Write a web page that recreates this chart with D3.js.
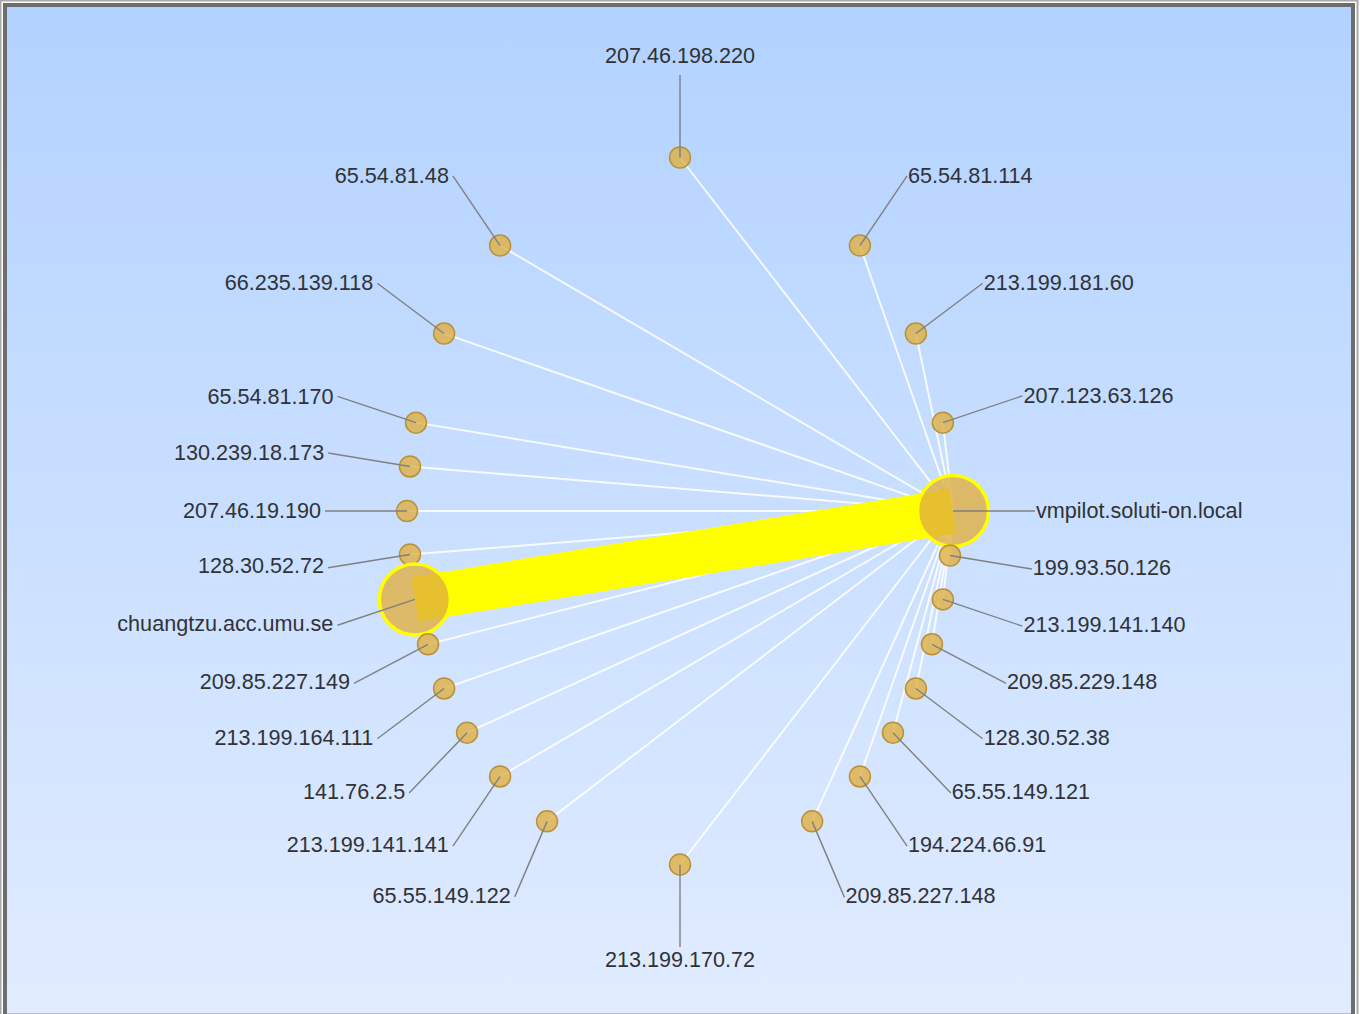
<!DOCTYPE html>
<html>
<head>
<meta charset="utf-8">
<script src="https://cdn.jsdelivr.net/npm/d3@7"></script>
<style>
  html, body { margin: 0; padding: 0; background: #ffffff; }
  svg { display: block; }
</style>
</head>
<body>
<svg id="chart" width="1360" height="1014"></svg>
<script>
// ---------------- DATA ----------------
const hub = "vmpilot.soluti-on.local";

const hosts = [
  "207.46.198.220", "65.54.81.48", "65.54.81.114", "66.235.139.118", "213.199.181.60",
  "65.54.81.170", "207.123.63.126", "130.239.18.173", "207.46.19.190", "vmpilot.soluti-on.local",
  "128.30.52.72", "199.93.50.126", "chuangtzu.acc.umu.se", "213.199.141.140", "209.85.227.149",
  "209.85.229.148", "213.199.164.111", "128.30.52.38", "141.76.2.5", "65.55.149.121",
  "213.199.141.141", "194.224.66.91", "65.55.149.122", "209.85.227.148", "213.199.170.72"
];

// layout coordinates (normalised, elliptical layout)
const layoutX = [
  0.000, -0.659, 0.659, -0.864, 0.864,
  -0.967, 0.963, -0.989, -1.000, 1.000,
  -0.989, 0.989, -0.971, 0.963, -0.923,
  0.923, -0.864, 0.864, -0.780, 0.780,
  -0.659, 0.659, -0.487, 0.484, 0.000
];
const layoutY = [
  -1.000, -0.751, -0.751, -0.502, -0.502,
  -0.250, -0.250, -0.126, 0.000, 0.000,
  0.123, 0.126, 0.250, 0.250, 0.377,
  0.377, 0.502, 0.502, 0.627, 0.627,
  0.751, 0.751, 0.878, 0.878, 1.000
];

// traffic volume per host (relative units) -> node size
const nodeTraffic = [
  1, 1, 1, 1, 1,
  1, 1, 1, 1, 12,
  1, 1, 12, 1, 1,
  1, 1, 1, 1, 1,
  1, 1, 1, 1, 1
];

// traffic volume of each host's link to the hub -> edge width
const linkTraffic = [
  1, 1, 1, 1, 1,
  1, 1, 1, 1, 0,
  1, 1, 22, 1, 1,
  1, 1, 1, 1, 1,
  1, 1, 1, 1, 1
];

// ---------------- DRAW ----------------
const W = 1360, H = 1014;
const svg = d3.select("#chart");
const defs = svg.append("defs");
const grad = defs.append("linearGradient").attr("id", "bg").attr("x1", 0).attr("y1", 0).attr("x2", 0).attr("y2", 1);
grad.append("stop").attr("offset", "0%").attr("stop-color", "#b2d2ff");
grad.append("stop").attr("offset", "100%").attr("stop-color", "#e1ecff");

// frame
svg.append("rect").attr("x", 0.5).attr("y", 0.5).attr("width", 1357).attr("height", 1020)
  .attr("fill", "none").attr("stroke", "#a9a9a9").attr("stroke-width", 2);
svg.append("rect").attr("x", 5).attr("y", 5).attr("width", 1348).attr("height", 1020)
  .attr("fill", "url(#bg)").attr("stroke", "#6d6d6d").attr("stroke-width", 4);
svg.append("line").attr("x1", 7).attr("x2", 1351).attr("y1", 1013.5).attr("y2", 1013.5)
  .attr("stroke", "#b9bfc8").attr("stroke-width", 1);

const cx = 680, cy = 511;
const x = d3.scaleLinear().domain([-1, 1]).range([cx - 273, cx + 273]);
const y = d3.scaleLinear().domain([-1, 1]).range([cy - 353.5, cy + 353.5]);
const r = d3.scaleSqrt().domain([1, 12]).range([10.5, 35.5]);
const lw = d3.scaleLinear().domain([1, 22]).range([2, 45]);

const nodes = hosts.map((h, i) => ({
  name: h, px: x(layoutX[i]), py: y(layoutY[i]), traffic: nodeTraffic[i], link: linkTraffic[i]
}));
const hubNode = nodes.find(n => n.name === hub);
const links = nodes.filter(n => n !== hubNode && n.link > 0).map(n => ({ source: n, target: hubNode, w: n.link }));

const gLinks = svg.append("g");
// thin links first, heavy ones on top
const sortedLinks = links.slice().sort((a, b) => a.w - b.w);
gLinks.selectAll("line").data(sortedLinks).join("line")
  .attr("x1", d => d.source.px).attr("y1", d => d.source.py)
  .attr("x2", d => d.target.px).attr("y2", d => d.target.py)
  .attr("stroke", d => d.w > 1 ? "#ffff00" : "#ffffff")
  .attr("stroke-opacity", d => d.w > 1 ? 1 : 0.85)
  .attr("stroke-width", d => lw(d.w))
  .attr("stroke-linecap", "butt");

// nodes
const gNodes = svg.append("g");
gNodes.selectAll("circle").data(nodes).join("circle")
  .attr("cx", d => d.px).attr("cy", d => d.py)
  .attr("r", d => r(d.traffic))
  .attr("fill", "#e0ae3e")
  .attr("fill-opacity", 0.78)
  .attr("stroke", d => d.traffic > 1 ? "#ffff00" : "#b8923a")
  .attr("stroke-width", d => d.traffic > 1 ? 3.5 : 1.5);

// label leader lines: radial from layout centre to outer ellipse
const RX = 355, RY = 436;
nodes.forEach(n => {
  const dx = n.px - cx, dy = n.py - cy;
  const t = 1 / Math.sqrt((dx / RX) ** 2 + (dy / RY) ** 2);
  n.ex = cx + dx * t; n.ey = cy + dy * t;
  if (Math.abs(dx) < 1) n.side = dy < 0 ? "top" : "bottom";
  else n.side = dx < 0 ? "left" : "right";
});

const gLead = svg.append("g");
gLead.selectAll("line").data(nodes).join("line")
  .attr("x1", d => d.px).attr("y1", d => d.py)
  .attr("x2", d => d.ex).attr("y2", d => d.ey)
  .attr("stroke", "#808080").attr("stroke-width", 1.4);

const gText = svg.append("g")
  .style("font-family", "'Liberation Sans', Arial, Helvetica, sans-serif")
  .style("font-size", "21.6px")
  .attr("fill", "#303236");
gText.selectAll("text").data(nodes).join("text")
  .attr("x", d => d.side === "left" ? d.ex - 4 : d.side === "right" ? d.ex + 1 : d.ex)
  .attr("y", d => d.side === "top" ? d.ey - 12 : d.side === "bottom" ? d.ey + 19.5
                : d.ey + (d.ey > cy + 1 ? 5.8 : 7.2))
  .attr("text-anchor", d => d.side === "left" ? "end" : d.side === "right" ? "start" : "middle")
  .text(d => d.name);
</script>
</body>
</html>
